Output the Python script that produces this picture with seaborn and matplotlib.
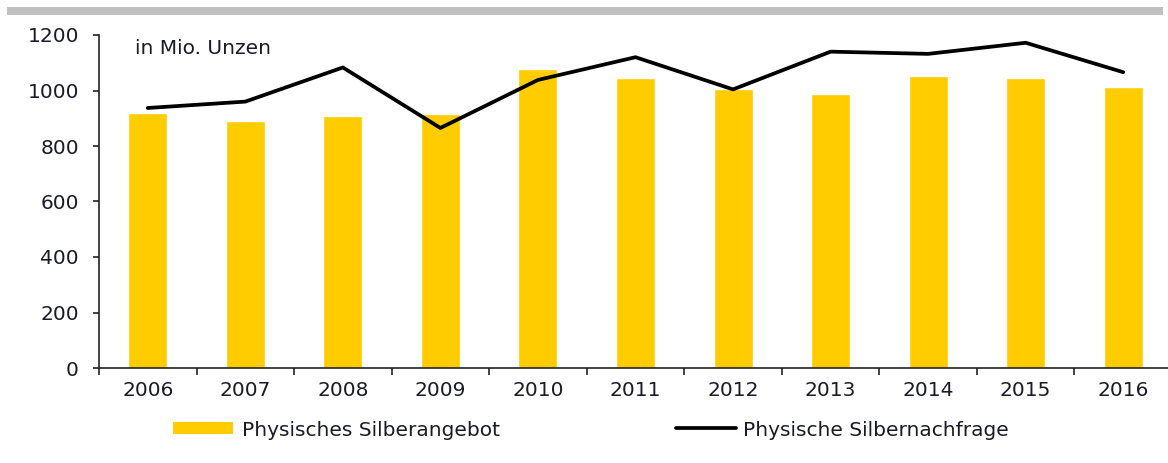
import numpy as np
import pandas as pd
import matplotlib
matplotlib.use("Agg")
import matplotlib.pyplot as plt
from matplotlib.patches import Patch, Rectangle
from matplotlib.lines import Line2D
import seaborn as sns

# Silbermarkt: physisches Angebot vs. Nachfrage (Mio. Unzen)
years = ["2006", "2007", "2008", "2009", "2010", "2011",
         "2012", "2013", "2014", "2015", "2016"]
angebot = [919, 890, 908, 915, 1076, 1044, 1005, 987, 1053, 1046, 1011]
nachfrage = [937, 960, 1083, 865, 1038, 1120, 1004, 1140, 1132, 1172, 1066]
y_ticks = [0, 200, 400, 600, 800, 1000, 1200]

label_angebot = "Physisches Silberangebot"
label_nachfrage = "Physische Silbernachfrage"
unit_text = "in Mio. Unzen"

df = pd.DataFrame({"Jahr": years, "Angebot": angebot, "Nachfrage": nachfrage})

sns.set_theme(style="white")
plt.rcParams["font.family"] = ["DejaVu Sans"]
text_color = "#1a1a2a"
yellow = "#FFCC00"
fsize = 14.5

W, H = 1168, 463
fig = plt.figure(figsize=(W / 100, H / 100), dpi=100)
# the category axis runs slightly past the right edge of the figure
ax = fig.add_axes([99 / W, 1 - 368 / H, (1172 - 99) / W, (368 - 35) / H])

sns.barplot(data=df, x="Jahr", y="Angebot", color=yellow, saturation=1,
            width=0.40, ax=ax, zorder=2)
sns.lineplot(data=df, x="Jahr", y="Nachfrage", color="black", linewidth=2.7,
             sort=False, ax=ax, zorder=3)

ax.set_xlim(-0.5, len(years) - 0.5)
ax.set_ylim(0, 1200)
ax.set_yticks(y_ticks)
ax.set_xlabel("")
ax.set_ylabel("")

for side in ("top", "right"):
    ax.spines[side].set_visible(False)
for side in ("left", "bottom"):
    ax.spines[side].set_color("#222222")
    ax.spines[side].set_linewidth(1.2)

ax.tick_params(axis="y", which="major", direction="out", length=4.5, width=1.2,
               color="#222222", pad=10, labelsize=fsize, labelcolor=text_color, left=True)
ax.tick_params(axis="x", which="major", length=0, pad=9, labelsize=fsize,
               labelcolor=text_color, bottom=True)
ax.set_xticks(np.arange(-0.5, len(years), 1.0), minor=True)
ax.tick_params(axis="x", which="minor", direction="out", length=5, width=1.2,
               color="#222222", bottom=True)

ax.text(135 / W, 1 - 48 / H, unit_text, transform=fig.transFigure,
        fontsize=fsize, color=text_color, va="center", ha="left")

# grey rule across the top of the figure
fig.patches.append(Rectangle((7 / W, 1 - 15 / H), (1163 - 7) / W, 8 / H,
                             transform=fig.transFigure, facecolor="#c0c0c0",
                             edgecolor="none", figure=fig))

fs_px = fsize * 100 / 72
leg1 = fig.legend(handles=[Patch(facecolor=yellow, edgecolor="none", label=label_angebot)],
                  loc="center left", bbox_to_anchor=(173 / W, 1 - 430 / H),
                  frameon=False, fontsize=fsize, borderpad=0, borderaxespad=0,
                  handlelength=60 / fs_px, handleheight=11 / fs_px,
                  handletextpad=9 / fs_px, labelcolor=text_color)
leg2 = fig.legend(handles=[Line2D([], [], color="black", linewidth=2.7, label=label_nachfrage)],
                  loc="center left", bbox_to_anchor=(676 / W, 1 - 430 / H),
                  frameon=False, fontsize=fsize, borderpad=0, borderaxespad=0,
                  handlelength=60 / fs_px, handletextpad=7 / fs_px,
                  labelcolor=text_color)

fig.savefig("out.png", dpi=100)
